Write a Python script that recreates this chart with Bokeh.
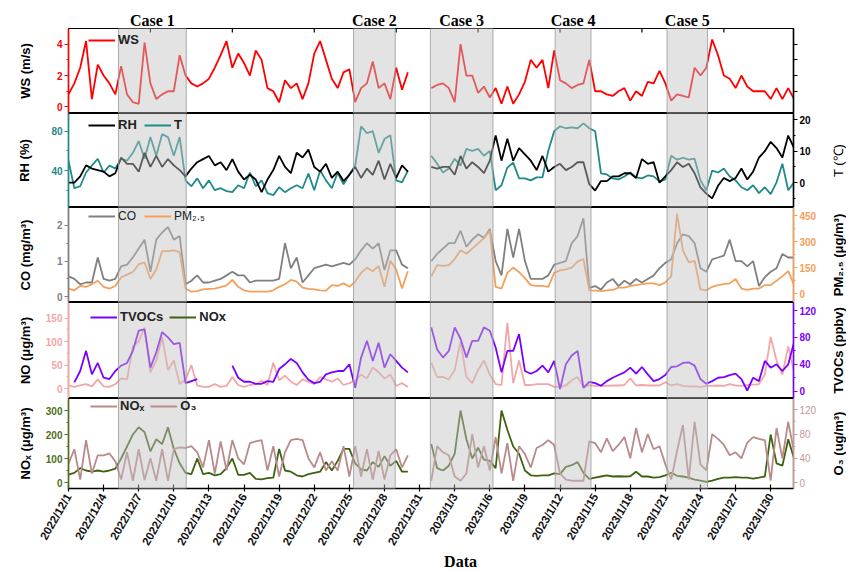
import math
import numpy as np
import pandas as pd
from bokeh.plotting import figure
from bokeh.layouts import column, row
from bokeh.models import (Range1d, LinearAxis, FixedTicker, BoxAnnotation, Legend,
                          LegendItem, ColumnDataSource)
from bokeh.core.properties import value
from bokeh.embed import file_html
from bokeh.resources import INLINE

# ---------------- data: 12-hourly readings (Dec 1-30, Jan 1 - Feb 1) ----------------
dec_start, dec_end = "2022-12-01 00:00", "2022-12-30 00:00"
jan_start, jan_end = "2023-01-01 00:00", "2023-02-01 00:00"

ws_dec = [0.8, 1.5, 2.5, 4.2, 0.5, 2.7, 2.0, 1.5, 0.8, 2.6,
          0.8, 0.3, 0.2, 4.1, 1.5, 0.5, 0.8, 1.0, 1.0, 3.3,
          2.0, 1.5, 1.3, 1.5, 1.8, 2.5, 3.3, 4.2, 2.5, 3.4,
          2.8, 2.0, 3.6, 3.0, 1.2, 1.0, 0.3, 1.7, 1.2, 1.5,
          0.5, 1.5, 3.4, 4.2, 3.0, 1.8, 1.2, 2.2, 2.4, 0.3,
          1.2, 1.5, 2.9, 1.2, 1.5, 0.5, 2.5, 1.1, 2.2]
ws_jan = [1.2, 1.4, 1.5, 1.2, 0.3, 4.0, 2.0, 2.0, 0.9, 1.3,
          0.6, 1.2, 0.2, 1.3, 0.2, 0.8, 1.6, 3.0, 2.5, 3.0,
          1.2, 3.6, 1.7, 1.5, 1.2, 1.4, 1.5, 3.0, 1.0, 1.0,
          0.8, 0.7, 1.0, 1.2, 0.4, 1.0, 0.7, 1.6, 1.5, 2.3,
          1.5, 0.4, 0.8, 0.7, 0.6, 2.5, 2.0, 2.5, 4.3, 3.3,
          2.0, 1.8, 1.2, 2.0, 1.3, 1.0, 1.0, 1.0, 0.5, 1.2,
          0.5, 1.2, 0.5]

rh_dec = [50, 22, 24, 38, 45, 52, 38, 45, 42, 52,
          50, 58, 70, 52, 74, 55, 77, 74, 55, 74,
          30, 24, 32, 22, 30, 20, 22, 19, 18, 25,
          22, 38, 24, 30, 17, 15, 23, 18, 22, 25,
          22, 37, 20, 40, 30, 22, 38, 26, 36, 45,
          85, 78, 80, 58, 72, 76, 30, 28, 40]
rh_jan = [55, 47, 38, 42, 52, 45, 62, 60, 62, 55,
          60, 20, 25, 43, 48, 32, 32, 30, 33, 33,
          60, 80, 85, 83, 84, 83, 88, 83, 80, 37,
          36, 32, 31, 34, 38, 33, 32, 35, 34, 29,
          31, 55, 51, 53, 51, 52, 30, 20, 40, 38,
          42, 34, 30, 23, 20, 25, 17, 23, 16, 28,
          47, 20, 28]

t_dec = [0, 0, 2, 5.5, 4.5, 4, 3.5, 2, 3, 8,
         6, 6, 3.5, 9.5, 5, 8.5, 5, 7.5, 5.5, 4,
         2, 4.5, 6.5, 7.5, 8.5, 5.5, 6.5, 4, 7.5, 3.5,
         1, 2.5, 1, -3, 1, 4, 8.5, 5, 3, 9.5,
         8, 10.5, 5, 3.5, 6, 1.5, 3.5, 0.5, 2.5, 5,
         1.5, 4.5, 2.5, 7, 1, 6, 1.5, 5.5, 3.5]
t_jan = [5, 4.5, 5, 5, 2.5, 8.5, 4.5, 6.5, 5, 3,
         7, 15, 7, 14, 7, 11, 9, 7, 4, 8.5,
         3.5, 5, 6, 4, 5, 6.5, 6.5, -0.5, -2.5, 0.5,
         0.5, 2, 2, 3, 3, 1.5, 7.5, 6, 6.5, 0,
         2, 4, 6.5, 5, 6, 3, -1.5, -3.5, -5, -1,
         1.5, 0.5, 1.5, 4.5, 1, 3.5, 8, 10, 13, 11,
         8, 15, 11]

co_dec = [0.57, 0.5, 0.35, 0.4, 0.4, 1.1, 0.5, 0.45, 0.5, 0.85,
          0.9, 1.1, 1.35, 1.6, 0.7, 1.6, 1.8, 1.95, 1.6, 1.7,
          0.35, 0.45, 0.6, 0.4, 0.4, 0.45, 0.5, 0.6, 0.7, 0.6,
          0.6, 0.4, 0.45, 0.45, 0.45, 0.45, 0.5, 1.5, 0.8, 1.1,
          0.4, 0.6, 0.8, 0.85, 0.9, 0.85, 0.9, 0.95, 0.9, 1.05,
          1.3, 1.5, 1.35, 1.5, 0.75, 1.3, 1.3, 0.9, 0.8]
co_jan = [1.0, 1.2, 1.35, 1.5, 1.5, 1.85, 1.4, 1.6, 1.75, 1.65,
          1.9, 1.0, 0.6, 1.9, 1.1, 1.9, 1.0, 0.5, 0.5, 0.5,
          0.6, 0.9, 0.95, 1.0, 1.5, 1.7, 2.2, 0.25, 0.3, 0.2,
          0.4, 0.5, 0.3, 0.45, 0.35, 0.5, 0.4, 0.5, 0.6, 0.8,
          0.95, 1.05, 1.5, 1.75, 1.7, 1.5, 0.8, 0.7, 1.05, 1.1,
          1.15, 1.6, 1.0, 1.0, 0.85, 1.0, 0.3, 0.55, 0.7, 0.8,
          1.2, 1.1, 1.1]

pm_dec = [30, 20, 45, 40, 55, 75, 40, 30, 45, 95,
          110, 125, 170, 180, 85, 140, 245, 245, 250, 240,
          30, 12, 15, 25, 28, 30, 38, 48, 80, 40,
          20, 12, 12, 12, 12, 20, 40, 55, 80, 70,
          35, 28, 25, 20, 18, 50, 45, 60, 40, 70,
          120, 150, 130, 160, 40, 190, 140, 30, 130]
pm_jan = [100, 165, 160, 165, 200, 250, 230, 260, 290, 320,
          360, 40, 30, 120, 150, 125, 90, 50, 45, 45,
          40, 120, 135, 140, 150, 185, 200, 20, 18, 15,
          20, 22, 35, 35, 45, 50, 55, 60, 60, 50,
          65, 100, 460, 250, 180, 190, 25, 20, 40, 50,
          55, 60, 85, 30, 22, 30, 30, 50, 50, 75,
          100, 130, 50]

no_dec = [7, 4, 7, 10, 5, 20, 5, 4, 10, 22,
          20, 90, 100, 130, 35, 60, 110, 40, 60, 10,
          20, 50, 7, 4, 4, 10, 4, 6, 25, 8,
          4, 8, 10, 17, 8, 55, 18, 28, 15, 8,
          20, 15, 10, 25, 20, 15, 22, 8, 12, 18,
          30, 22, 45, 35, 22, 30, 6, 12, 4]
no_jan = [55, 25, 25, 20, 40, 100, 25, 12, 40, 60,
          30, 10, 8, 140, 12, 60, 8, 8, 10, 10,
          10, 4, 4, 7, 18, 25, 4, 8, 6, 6,
          6, 7, 7, 8, 22, 7, 8, 7, 7, 7,
          14, 7, 10, 6, 5, 5, 4, 6, 6, 7,
          6, 10, 7, 6, 8, 9, 10, 30, 110, 60,
          30, 90, 35]

nan = float("nan")
tvoc_dec = [nan, 13, 30, 60, 25, 42, 20, 18, 30, 38,
            42, 60, 90, 92, 35, 58, 88, 80, 70, 72,
            12, 15, 18, nan, nan, nan, nan, nan, 38, 20,
            14, 14, 11, 11, 15, 14, 33, 40, 48, 42,
            28, 17, 12, 14, 25, 28, 30, 30, 40, 5,
            50, 75, 45, 72, 35, 55, 45, 35, 28]
tvoc_jan = [95, 62, 50, 60, 95, 78, 50, 75, 75, 95,
            90, 65, 28, 60, 60, 85, 30, 26, 30, 38,
            28, 45, 3, 40, 53, 60, 5, 14, 12, 8,
            15, 20, 24, 28, 35, 26, 36, 25, 15, 18,
            24, 36, 37, 42, 43, 38, 18, 11, 15, 20,
            21, 24, 26, 18, 1, 20, 15, 45, 35, 40,
            30, 40, 73]

nox_dec = [33, 40, 60, 50, 45, 50, 45, 50, 58, 100,
           150, 200, 230, 210, 130, 180, 160, 230, 140, 80,
           40, 35, 100, 35, 40, 30, 35, 60, 100, 32,
           32, 40, 15, 13, 18, 20, 140, 50, 45, 30,
           25, 35, 40, 45, 85, 50, 90, 140, 140, 80,
           55, 50, 85, 65, 110, 70, 90, 45, 45]
nox_jan = [160, 60, 50, 70, 120, 300, 180, 100, 145, 95,
           90, 60, 300, 220, 150, 120, 50, 30, 28, 30,
           30, 38, 35, 65, 72, 85, 40, 15, 20, 25,
           30, 25, 26, 25, 26, 45, 25, 25, 20, 22,
           30, 40, 28, 25, 20, 12, 8, 3, 8, 15,
           20, 20, 22, 20, 20, 16, 20, 25, 200, 80,
           70, 180, 100]

o3_dec = [31, 55, 5, 70, 15, 45, 45, 48, 35, 5,
          50, 3, 55, 4, 40, 3, 55, 3, 55, 58,
          57, 60, 50, 25, 70, 15, 68, 20, 70, 40,
          30, 65, 68, 70, 20, 60, 10, 50, 70, 72,
          70, 40, 25, 50, 20, 35, 20, 60, 10, 60,
          10, 55, 5, 52, 5, 45, 55, 25, 45]
o3_jan = [3, 60, 50, 45, 10, 3, 15, 80, 25, 60,
          20, 75, 15, 65, 3, 60, 47, 25, 57, 62,
          70, 62, 15, 5, 3, 3, 3, 68, 65, 50,
          73, 52, 62, 75, 40, 90, 50, 80, 55, 60,
          30, 5, 52, 95, 5, 100, 30, 20, 80, 72,
          62, 45, 50, 40, 66, 75, 72, 70, 3, 90,
          40, 100, 50]

case_names = ["Case 1", "Case 2", "Case 3", "Case 4", "Case 5"]
case_start = ["2022-12-05 06:30", "2022-12-25 08:30", "2022-12-31 22:00",
              "2023-01-11 14:00", "2023-01-21 03:30"]
case_end = ["2022-12-11 01:30", "2022-12-28 22:00", "2023-01-06 06:30",
            "2023-01-14 15:30", "2023-01-24 14:30"]

tick_labels = ["2022/12/1", "2022/12/4", "2022/12/7", "2022/12/10", "2022/12/13",
               "2022/12/16", "2022/12/19", "2022/12/22", "2022/12/25", "2022/12/28",
               "2022/12/31", "2023/1/3", "2023/1/6", "2023/1/9", "2023/1/12",
               "2023/1/15", "2023/1/18", "2023/1/21", "2023/1/24", "2023/1/27",
               "2023/1/30"]

# ---------------- helpers ----------------
origin = pd.Timestamp("2022-12-01")


def days(ts):
    return (pd.to_datetime(ts) - origin) / pd.Timedelta(days=1)


dec_x = np.asarray(days(pd.date_range(dec_start, dec_end, freq="12h")), dtype=float)
jan_x = np.asarray(days(pd.date_range(jan_start, jan_end, freq="12h")), dtype=float)
gap_x = (dec_x[-1] + jan_x[0]) / 2.0
x_all = np.concatenate([dec_x, [gap_x], jan_x])


def join(dec, jan):
    if len(dec) != len(dec_x) or len(jan) != len(jan_x):
        raise ValueError("length mismatch %d/%d %d/%d" % (len(dec), len(dec_x), len(jan), len(jan_x)))
    return np.array(list(dec) + [nan] + list(jan), dtype=float)


src = ColumnDataSource(dict(
    x=x_all,
    ws=join(ws_dec, ws_jan), rh=join(rh_dec, rh_jan), t=join(t_dec, t_jan),
    co=join(co_dec, co_jan), pm=join(pm_dec, pm_jan), no=join(no_dec, no_jan),
    tvoc=join(tvoc_dec, tvoc_jan), nox=join(nox_dec, nox_jan), o3=join(o3_dec, o3_jan),
))

FONT = "Liberation Sans"
SERIF = "Liberation Serif"
TOTAL_W = 846
STRIP_W = 16
W = TOTAL_W - STRIP_W
LB = 68
FRAME_W = 725
RB = W - LB - FRAME_W
XR = Range1d(0, 61.95)

WS_C = "#ff0000"
RH_C = "#1f8a8a"
T_C = "#000000"
CO_C = "#808080"
PM_C = "#f5a05a"
NO_C = "#f4a6a6"
TV_C = "#7b00ff"
NOX_C = "#3f6212"
NOX_AX = "#4f7020"
O3_C = "#b98a8a"
O3_AX = "#c09a9a"
LW = 1.8


def blank_fig(width, height, xr, left=0, right=0, top=0, bottom=0):
    s = figure(width=width, height=height, x_range=xr, y_range=Range1d(0, 1),
               output_backend="svg", toolbar_location=None, title=None,
               x_axis_location=None, y_axis_location=None,
               min_border_left=left, min_border_right=right,
               min_border_top=top, min_border_bottom=bottom)
    s.outline_line_color = None
    s.xgrid.visible = False
    s.ygrid.visible = False
    s.background_fill_color = "white"
    s.border_fill_color = "white"
    return s


def base_fig(frame_h, yr, bottom=0, below_axis=False):
    p = figure(width=W, height=frame_h + bottom, x_range=XR, y_range=Range1d(*yr),
               output_backend="svg", toolbar_location=None, title=None,
               x_axis_location="below" if below_axis else None,
               min_border_left=LB, min_border_right=RB,
               min_border_top=0, min_border_bottom=bottom)
    p.outline_line_color = "black"
    p.outline_line_width = 1.2
    p.xgrid.visible = False
    p.ygrid.visible = False
    p.background_fill_color = "white"
    p.border_fill_color = "white"
    return p


def style_axis(ax, color, ticks, minor, label, standoff, tick_bold=True):
    ax.ticker = FixedTicker(ticks=ticks, minor_ticks=minor)
    ax.axis_line_color = color
    ax.axis_line_width = 1.5
    ax.major_tick_line_color = color
    ax.minor_tick_line_color = color
    ax.major_tick_line_width = 1.2
    ax.major_tick_out = 4
    ax.major_tick_in = 0
    ax.minor_tick_out = 2
    ax.minor_tick_in = 0
    ax.major_label_text_color = color
    ax.major_label_text_font = FONT
    ax.major_label_text_font_size = "10px"
    ax.major_label_text_font_style = "bold" if tick_bold else "normal"
    ax.major_label_standoff = 2
    if label:
        ax.axis_label = label
        ax.axis_label_text_font = FONT
        ax.axis_label_text_font_size = "13px"
        ax.axis_label_text_font_style = "bold"
        ax.axis_label_text_color = "black"
        ax.axis_label_standoff = standoff


def right_axis(p, name, yr, color, ticks, minor, tick_bold=True):
    p.extra_y_ranges = {name: Range1d(*yr)}
    ax = LinearAxis(y_range_name=name)
    style_axis(ax, color, ticks, minor, "", 0, tick_bold)
    p.add_layout(ax, "right")
    return ax


def right_title(text, frame_h, bottom=0, bold=True):
    s = blank_fig(STRIP_W, frame_h + bottom, Range1d(0, 1), bottom=bottom)
    s.text(x=[0.5], y=[0.5], text=[text], angle=math.pi / 2,
           text_align="center", text_baseline="middle",
           text_font=value(FONT), text_font_size="13px",
           text_font_style="bold" if bold else "normal", text_color="black")
    return s


def add_legend(p, entries, loc, size="13px", style="bold"):
    items = []
    for lab, col in entries:
        r = p.line(x=[-6, -5], y=[0, 0], line_color=col, line_width=2)
        items.append(LegendItem(label=lab, renderers=[r]))
    leg = Legend(items=items, orientation="horizontal", location=loc,
                 padding=0, margin=0, spacing=6, glyph_width=27, glyph_height=14,
                 label_height=14, label_standoff=3,
                 border_line_alpha=0, background_fill_alpha=0,
                 label_text_font=FONT, label_text_font_size=size,
                 label_text_font_style=style, label_text_color="#222222")
    p.add_layout(leg)


def add_cases(p):
    for s, e in zip(case_start, case_end):
        p.add_layout(BoxAnnotation(left=days(s), right=days(e),
                                   fill_color="#c2c2c2", fill_alpha=0.46,
                                   line_color="#9a9a9a", line_alpha=0.8, line_width=1,
                                   level="overlay"))


# ---------------- top strip: case names ----------------
top = blank_fig(TOTAL_W, 28, XR, left=LB, right=TOTAL_W - LB - FRAME_W)
case_mid = [(days(s) + days(e)) / 2 for s, e in zip(case_start, case_end)]
top.text(x=case_mid, y=[0.29] * len(case_mid), text=case_names,
         text_align="center", text_baseline="middle",
         text_font=value(SERIF), text_font_style="bold", text_font_size="16px",
         text_color="black")

# ---------------- panel 1: WS ----------------
H1 = 85
p1 = base_fig(H1, (-0.42, 5))
style_axis(p1.yaxis[0], WS_C, [0, 2, 4], [1, 3], "WS (m/s)", 21)
ax_r1 = LinearAxis()
style_axis(ax_r1, "black", [1, 2, 3, 4], [], "", 0)
ax_r1.major_label_text_color = None
p1.add_layout(ax_r1, "right")
week_ticks = list(range(7, 62, 7))
p1.segment(x0=week_ticks, y0=[5] * len(week_ticks), x1=week_ticks,
           y1=[4.75] * len(week_ticks), line_color="black", line_width=1.2)
p1.line("x", "ws", source=src, line_color=WS_C, line_width=LW)
add_legend(p1, [("WS", WS_C)], (20, 66))
add_cases(p1)
r1 = blank_fig(STRIP_W, H1, Range1d(0, 1))

# ---------------- panel 2: RH / T ----------------
H2 = 94
p2 = base_fig(H2, (2.4, 98))
style_axis(p2.yaxis[0], RH_C, [40, 80], [20, 60], "RH (%)", 16)
right_axis(p2, "t", (-7.9, 22), T_C, [0, 10, 20], [-5, 5, 15])
p2.line("x", "rh", source=src, line_color=RH_C, line_width=LW)
p2.line("x", "t", source=src, line_color=T_C, line_width=LW, y_range_name="t")
add_legend(p2, [("RH", "#000000"), ("T", RH_C)], (20, 75))
add_cases(p2)
r2 = right_title("T (\u2103)", H2, bold=False)

# ---------------- panel 3: CO / PM2.5 ----------------
H3 = 95
p3 = base_fig(H3, (-0.16, 2.5))
style_axis(p3.yaxis[0], CO_C, [0, 1, 2], [0.5, 1.5], "CO (mg/m\u00b3)", 21)
right_axis(p3, "pm", (-50, 496), PM_C, [0, 150, 300, 450], [75, 225, 375])
p3.line("x", "co", source=src, line_color=CO_C, line_width=LW)
p3.line("x", "pm", source=src, line_color=PM_C, line_width=LW, y_range_name="pm")
add_legend(p3, [("CO", CO_C), ("PM\u2082.\u2085", PM_C)], (20, 79), size="12px", style="normal")
add_cases(p3)
r3 = right_title("PM\u2082.\u2085 (\u03bcg/m\u00b3)", H3)

# ---------------- panel 4: NO / TVOCs ----------------
H4 = 96
p4 = base_fig(H4, (-20.6, 183))
style_axis(p4.yaxis[0], NO_C, [0, 50, 100, 150], [25, 75, 125], "NO (\u03bcg/m\u00b3)", 10)
right_axis(p4, "tv", (-10.9, 132), TV_C, [0, 40, 80, 120], [20, 60, 100])
p4.line("x", "no", source=src, line_color=NO_C, line_width=LW)
p4.line("x", "tvoc", source=src, line_color=TV_C, line_width=LW, y_range_name="tv")
add_legend(p4, [("TVOCs", TV_C), ("NOx", NOX_C)], (22, 74))
add_cases(p4)
r4 = right_title("TVOCs (ppbv)", H4)

# ---------------- panel 5: NOx / O3 ----------------
H5 = 95
BOT = 60
p5 = base_fig(H5, (-25, 350), bottom=BOT, below_axis=True)
style_axis(p5.yaxis[0], NOX_AX, [0, 100, 200, 300], [50, 150, 250], "NO\u2093 (\u03bcg/m\u00b3)", 10)
right_axis(p5, "o3", (-9.8, 138.7), O3_AX, [0, 40, 80, 120], [20, 60, 100], tick_bold=False)
p5.line("x", "nox", source=src, line_color=NOX_C, line_width=LW)
p5.line("x", "o3", source=src, line_color=O3_C, line_width=LW, y_range_name="o3")
add_legend(p5, [("NO\u2093", O3_C), ("O\u2083", O3_C)], (22, 75))

tick_pos = [int(round(days(pd.to_datetime(t, format="%Y/%m/%d")))) for t in tick_labels]
xa = p5.xaxis[0]
xa.ticker = FixedTicker(ticks=tick_pos, minor_ticks=[])
xa.major_label_overrides = {k: v for k, v in zip(tick_pos, tick_labels)}
xa.major_label_orientation = math.pi / 3
xa.major_label_text_font = FONT
xa.major_label_text_font_size = "11.5px"
xa.major_label_text_font_style = "bold"
xa.major_label_text_color = "#111111"
xa.major_label_standoff = 3
xa.axis_line_width = 1.6
xa.axis_line_color = "black"
xa.major_tick_in = 4
xa.major_tick_out = 3
xa.major_tick_line_width = 1.2
add_cases(p5)
r5 = right_title("O\u2083 (ug/m\u00b3)", H5, bottom=BOT)

# ---------------- bottom strip: x title ----------------
bot = blank_fig(TOTAL_W, 16, XR, left=LB, right=TOTAL_W - LB - FRAME_W)
bot.text(x=[33.5], y=[0.5], text=["Data"], text_align="center", text_baseline="middle",
         text_font=value(SERIF), text_font_style="bold", text_font_size="16px",
         text_color="black")

layout = column(top, row(p1, r1, spacing=0), row(p2, r2, spacing=0), row(p3, r3, spacing=0),
                row(p4, r4, spacing=0), row(p5, r5, spacing=0), bot, spacing=0)
open("out.html", "w").write(file_html(layout, INLINE))
